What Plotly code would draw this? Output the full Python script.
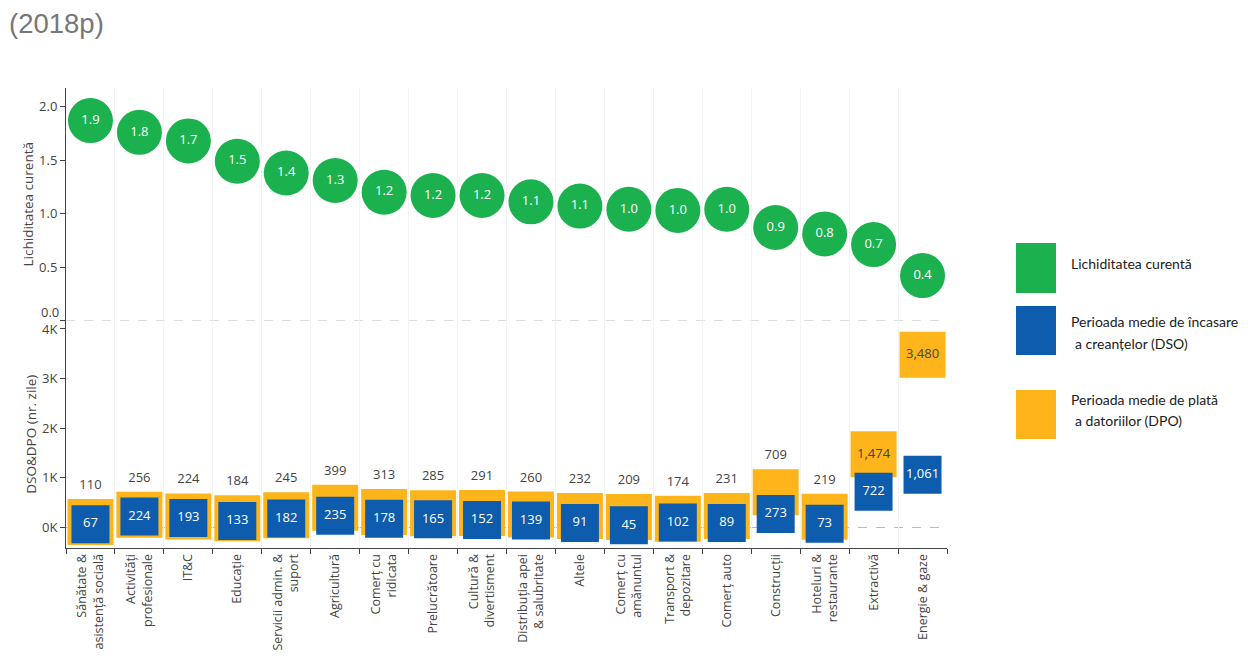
import plotly.graph_objects as go
from plotly.subplots import make_subplots

categories = [
    "Sănătate &<br>asistență socială", "Activități<br>profesionale", "IT&C", "Educație",
    "Servicii admin. &<br>suport", "Agricultură", "Comerț cu<br>ridicata", "Prelucrătoare",
    "Cultură &<br>divertisment", "Distribuția apei<br>& salubritate", "Altele",
    "Comerț cu<br>amănuntul", "Transport &<br>depozitare", "Comerț auto", "Construcții",
    "Hoteluri &<br>restaurante", "Extractivă", "Energie & gaze",
]
lichiditate = [1.87, 1.76, 1.68, 1.49, 1.38, 1.31, 1.20, 1.17, 1.17, 1.11, 1.07,
               1.04, 1.03, 1.04, 0.87, 0.81, 0.71, 0.42]
dso = [67, 224, 193, 133, 182, 235, 178, 165, 152, 139, 91, 45, 102, 89, 273, 73, 722, 1061]
dpo = [110, 256, 224, 184, 245, 399, 313, 285, 291, 260, 232, 209, 174, 231, 709, 219, 1474, 3480]
liq_ticks = [0, 0.5, 1.0, 1.5, 2.0]
liq_labels = ["", "0.5", "1.0", "1.5", "2.0"]
k_ticks = [0, 1000, 2000, 3000, 4000]
k_labels = ["0K", "1K", "2K", "3K", "4K"]

GREEN = "#1bb14e"
BLUE = "#0e5cad"
ORANGE = "#fdb51b"
FONT = "Open Sans"

W, H = 1251, 658
OFF = 8  # page body margin of the exported html
ML, MR, MT, MB = 58, 312, 80, 118
PW, PH = W - ML - MR, H - MT - MB
split = (548 - 320.5) / PH

fig = make_subplots(rows=2, cols=1, shared_xaxes=True, vertical_spacing=0,
                    row_heights=[1 - split, split])

fig.add_trace(go.Scatter(
    x=categories, y=lichiditate, mode="markers+text",
    marker=dict(symbol="circle", size=45, color=GREEN),
    texttemplate="%{y:.1f}", textposition="middle center",
    textfont=dict(family=FONT, size=13, color="white"),
    showlegend=False, cliponaxis=False), row=1, col=1)

fig.add_trace(go.Scatter(
    x=categories, y=dpo, mode="markers+text",
    marker=dict(symbol="square", size=46, color=ORANGE),
    texttemplate="%{y:,}",
    textposition=["middle center" if v > 1000 else "top center" for v in dpo],
    textfont=dict(family=FONT, size=13, color="#444"),
    showlegend=False, cliponaxis=False), row=2, col=1)

fig.add_trace(go.Scatter(
    x=categories, y=dso, mode="markers+text",
    marker=dict(symbol="square", size=38, color=BLUE),
    texttemplate="%{y:,}", textposition="middle center",
    textfont=dict(family=FONT, size=13, color="white"),
    showlegend=False, cliponaxis=False), row=2, col=1)

axis_common = dict(showline=True, linecolor="#444", linewidth=1, ticks="outside",
                   ticklen=5, tickcolor="#444", showgrid=False, zeroline=False,
                   automargin=False,
                   tickfont=dict(family=FONT, size=13, color="#444"))

fig.update_yaxes(row=1, col=1, range=[0, 2.175], tickvals=liq_ticks, ticktext=liq_labels,
                 title=dict(text="Lichiditatea curentă", standoff=2,
                            font=dict(family=FONT, size=13.5, color="#444")),
                 **axis_common)
fig.update_yaxes(row=2, col=1, range=[-413, 4170], tickvals=k_ticks, ticktext=k_labels,
                 title=dict(text="DSO&DPO (nr. zile)", standoff=2,
                            font=dict(family=FONT, size=13.5, color="#444")),
                 **axis_common)

xrange = [-0.5, len(categories) - 0.5]
fig.update_xaxes(row=1, col=1, range=xrange, showticklabels=False, showline=False,
                 ticks="", showgrid=True, gridcolor="#f3f3f3", tickson="boundaries",
                 automargin=False)
fig.update_xaxes(row=2, col=1, range=xrange, showline=True, linecolor="#444",
                 ticks="outside", ticklen=5, tickcolor="#444", tickson="boundaries",
                 tickangle=-90, showgrid=True, gridcolor="#f3f3f3", automargin=False,
                 tickfont=dict(family=FONT, size=12.5, color="#444"))

# dashed zero lines
fig.add_shape(type="line", xref="paper", x0=0, x1=1, yref="y", y0=0, y1=0, layer="below",
              line=dict(color="#bbbbbb", width=1, dash="dash"))
fig.add_shape(type="line", xref="paper", x0=0, x1=1, yref="y2", y0=0, y1=0, layer="below",
              line=dict(color="#bbbbbb", width=1, dash="dash"))


def px_x(px):
    return (px - OFF - ML) / PW


def px_y(py):
    return (H - MB - (py - OFF)) / PH


# zero label of the upper axis, lifted above the "4K" label as in the source
fig.add_annotation(text="0.0", xref="paper", yref="paper", x=px_x(61), y=px_y(312),
                   xanchor="right", yanchor="middle", showarrow=False,
                   font=dict(family=FONT, size=13, color="#444"))

# custom legend
legend_items = [
    (GREEN, 243, 293, [("Lichiditatea curentă", 1069, 263)]),
    (BLUE, 306, 355, [("Perioada medie de încasare", 1069, 321),
                      ("a creanțelor (DSO)", 1073, 343)]),
    (ORANGE, 390, 439, [("Perioada medie de plată", 1069, 399),
                        ("a datoriilor (DPO)", 1073, 421)]),
]
for color, y0, y1, texts in legend_items:
    fig.add_shape(type="rect", xref="paper", yref="paper",
                  x0=px_x(1016), x1=px_x(1056), y0=px_y(y1), y1=px_y(y0),
                  fillcolor=color, line=dict(width=0))
    for txt, tx, ty in texts:
        fig.add_annotation(text=txt, xref="paper", yref="paper", x=px_x(tx), y=px_y(ty),
                           xanchor="left", yanchor="middle", showarrow=False,
                           font=dict(family="Lato", size=14, color="#222"))

fig.add_annotation(text="(2018p)", xref="paper", yref="paper", x=px_x(7), y=px_y(23),
                   xanchor="left", yanchor="middle", showarrow=False,
                   font=dict(family="Liberation Sans", size=27.5, color="#777"))

fig.update_layout(width=W, height=H, margin=dict(l=ML, r=MR, t=MT, b=MB),
                  plot_bgcolor="white", paper_bgcolor="white", showlegend=False)

fig.write_html("out.html")
